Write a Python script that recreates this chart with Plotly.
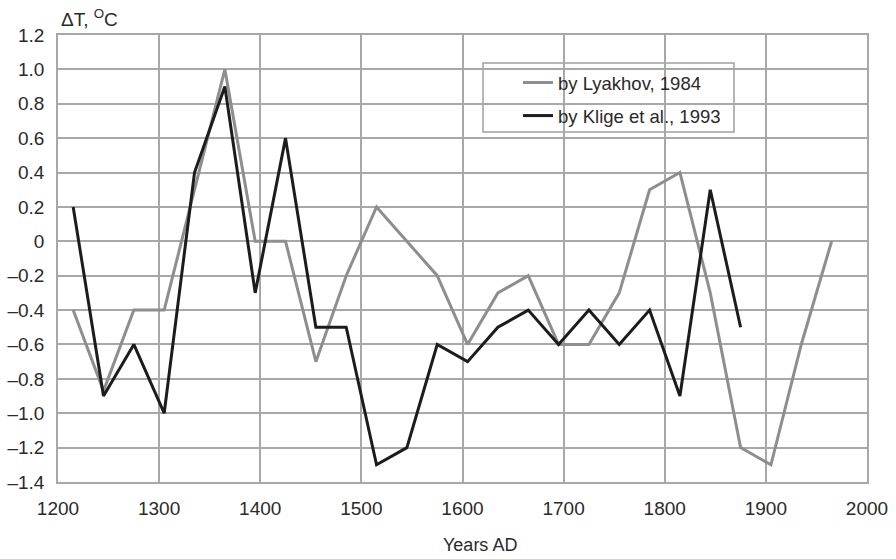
import plotly.graph_objects as go

years_lyakhov = [1215, 1245, 1275, 1305, 1335, 1365, 1395, 1425, 1455, 1485, 1515, 1545, 1575,
                 1605, 1635, 1665, 1695, 1725, 1755, 1785, 1815, 1845, 1875, 1905, 1935, 1965]
dt_lyakhov = [-0.4, -0.87, -0.4, -0.4, 0.3, 1.0, 0.0, 0.0, -0.7, -0.2, 0.2, 0.0, -0.2,
              -0.6, -0.3, -0.2, -0.6, -0.6, -0.3, 0.3, 0.4, -0.3, -1.2, -1.3, -0.6, 0.0]

years_klige = [1215, 1245, 1275, 1305, 1335, 1365, 1395, 1425, 1455, 1485, 1515, 1545, 1575,
               1605, 1635, 1665, 1695, 1725, 1755, 1785, 1815, 1845, 1875]
dt_klige = [0.2, -0.9, -0.6, -1.0, 0.4, 0.9, -0.3, 0.6, -0.5, -0.5, -1.3, -1.2, -0.6,
            -0.7, -0.5, -0.4, -0.6, -0.4, -0.6, -0.4, -0.9, 0.3, -0.5]

y_ticks = [1.2, 1.0, 0.8, 0.6, 0.4, 0.2, 0, -0.2, -0.4, -0.6, -0.8, -1.0, -1.2, -1.4]
y_ticktext = ["1.2", "1.0", "0.8", "0.6", "0.4", "0.2", "0", "\u20130.2", "\u20130.4",
              "\u20130.6", "\u20130.8", "\u20131.0", "\u20131.2", "\u20131.4"]
x_ticks = [1200, 1300, 1400, 1500, 1600, 1700, 1800, 1900, 2000]

FONT = "Liberation Sans, Arial, sans-serif"
TXT = "#2a2a2a"
GRID = "#a8a8a8"

fig = go.Figure()
fig.add_trace(go.Scatter(x=years_lyakhov, y=dt_lyakhov, mode="lines",
                         name="by Lyakhov, 1984", legendgroup="a",
                         line=dict(color="#8e8e8e", width=3)))
fig.add_trace(go.Scatter(x=years_klige, y=dt_klige, mode="lines",
                         name="by Klige et al., 1993", legendgroup="b",
                         line=dict(color="#1c1c1c", width=3)))

fig.update_layout(
    width=896, height=559,
    margin=dict(l=58, r=29, t=35, b=77),
    paper_bgcolor="white", plot_bgcolor="white",
    font=dict(family=FONT, size=19, color=TXT),
    showlegend=True,
    legend=dict(x=(518 - 58) / 809, y=(482 - 64) / 447, xanchor="left", yanchor="top",
                bgcolor="rgba(0,0,0,0)", borderwidth=0, tracegroupgap=6,
                font=dict(family=FONT, size=18.5, color=TXT)),
    xaxis=dict(range=[1200, 2000], tickvals=x_ticks, showgrid=True, gridcolor=GRID, gridwidth=1.5,
               showline=True, linecolor=GRID, linewidth=1.5, mirror=True, ticks="", zeroline=False,
               tickfont=dict(size=19, color=TXT), ticklabelstandoff=8, automargin=False),
    yaxis=dict(range=[-1.4, 1.2], tickvals=y_ticks, ticktext=y_ticktext, showgrid=True,
               gridcolor=GRID, gridwidth=1.5, showline=True, linecolor=GRID, linewidth=1.5,
               mirror=True, ticks="", zeroline=False, tickfont=dict(size=19, color=TXT),
               ticklabelstandoff=8, automargin=False),
    shapes=[dict(type="rect", xref="paper", yref="paper",
                 x0=(483 - 58) / 809, x1=(734 - 58) / 809,
                 y0=(482 - 132) / 447, y1=(482 - 63) / 447,
                 line=dict(color="#a0a0a0", width=1.5), fillcolor="white", layer="below")],
    annotations=[
        dict(text="\u0394T, <sup>O</sup>C", xref="paper", yref="paper",
             x=(59 - 58) / 809, y=(482 - 32) / 447, xanchor="left", yanchor="bottom",
             showarrow=False, font=dict(size=19, color=TXT)),
        dict(text="Years AD", xref="paper", yref="paper",
             x=(480 - 58) / 809, y=(482 - 545) / 447, xanchor="center", yanchor="middle",
             showarrow=False, font=dict(size=18, color=TXT)),
    ],
)

fig.write_html("out.html")
